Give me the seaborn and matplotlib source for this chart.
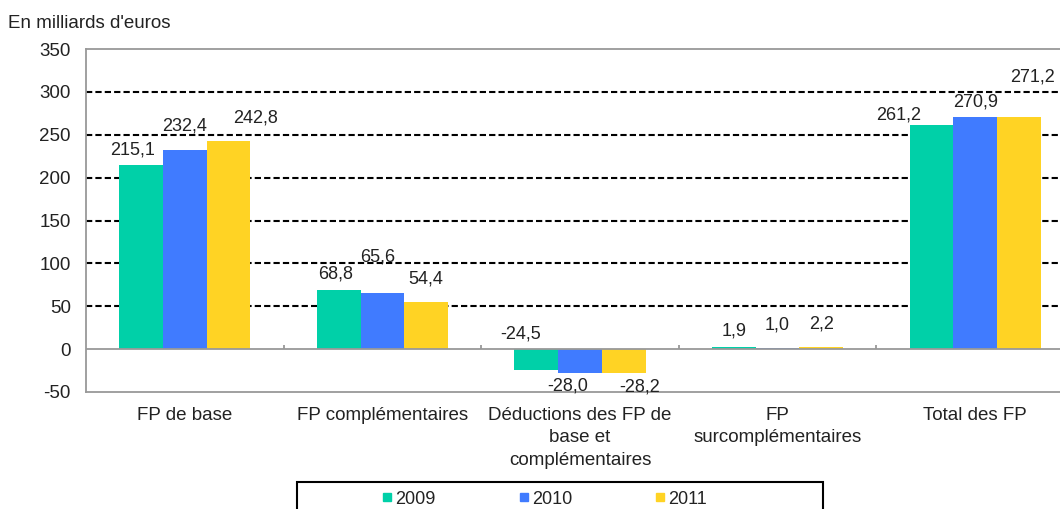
import pandas as pd
import matplotlib.pyplot as plt
import seaborn as sns
from matplotlib.lines import Line2D
from matplotlib.patches import Rectangle

# données (en milliards d'euros)
categories = ["FP de base", "FP complémentaires",
              "Déductions des FP de\nbase et\ncomplémentaires",
              "FP\nsurcomplémentaires", "Total des FP"]
years = ["2009", "2010", "2011"]
values_2009 = [215.1, 68.8, -24.5, 1.9, 261.2]
values_2010 = [232.4, 65.6, -28.0, 1.0, 270.9]
values_2011 = [242.8, 54.4, -28.2, 2.2, 271.2]
colors = ["#00D0A8", "#407BFF", "#FFD324"]

# décalage des étiquettes (points) par année puis catégorie
label_dx = [[-6, -2, -11.5, 0, -24], [0, -3.5, -9, 0, 0], [19.5, 0, 11.5, 0.5, 10]]
label_dy = [[10.5, 11.5, 26, 12, 7], [17, 25.5, -9.5, 17, 10.5], [16.5, 17, -9.5, 16.5, 28.5]]

df = pd.DataFrame({
    "cat": categories * 3,
    "year": [y for y in years for _ in categories],
    "val": values_2009 + values_2010 + values_2011,
})

sns.set_style("white")
plt.rcParams['font.family'] = ['Liberation Sans', 'DejaVu Sans']
plt.rcParams['axes.unicode_minus'] = False
text_color = "#222222"

fig = plt.figure(figsize=(10.6, 5.09), dpi=100)
ax = fig.add_axes([86 / 1060, 117 / 509, 988 / 1060, 343 / 509])

sns.barplot(data=df, x="cat", y="val", hue="year", palette=colors,
            width=0.664, saturation=1, gap=0, ax=ax, legend=False,
            edgecolor="none", linewidth=0)

ax.set_xlim(-0.5, 4.5)
ax.set_ylim(-50, 350)
ax.set_yticks(range(-50, 351, 50))
ax.set_xlabel("")
ax.set_ylabel("")

# grille pointillée
for y in range(50, 301, 50):
    ax.axhline(y, color="black", lw=1.5, ls=(0, (3, 1.5)), zorder=0)
ax.axhline(0, color="#999999", lw=1.3, zorder=3)
ax.vlines([0.5, 1.5, 2.5, 3.5], 0, 5, color="#999999", lw=1.3, zorder=3)

for side in ["left", "bottom", "top", "right"]:
    ax.spines[side].set_color("#999999")
    ax.spines[side].set_linewidth(1.3)

ax.tick_params(axis="both", length=0, labelsize=13.5, colors=text_color)
ax.tick_params(axis="y", pad=11)
ax.tick_params(axis="x", pad=11)
for lbl in ax.get_xticklabels():
    lbl.set_linespacing(1.4)

# étiquettes de valeurs
for i, cont in enumerate(ax.containers):
    for j, bar in enumerate(cont):
        v = bar.get_height() if bar.get_y() >= 0 else bar.get_y()
        xc = bar.get_x() + bar.get_width() / 2
        ax.annotate(f"{v:.1f}".replace(".", ","), (xc, v),
                    xytext=(label_dx[i][j], label_dy[i][j]),
                    textcoords="offset points", ha="center", va="center",
                    fontsize=13, color=text_color)

fig.text(8 / 1060, 1 - 23 / 509, "En milliards d'euros", fontsize=13.5,
         color=text_color, va="center", ha="left")

# légende
handles = [Line2D([], [], marker="s", ls="none", color=c, markersize=6) for c in colors]
fig.legend(handles, years, loc="center left", ncol=3, frameon=False,
           bbox_to_anchor=(365 / 1060, 1 - 499 / 509), fontsize=13,
           handlelength=0.6, handletextpad=0.15, columnspacing=4.6,
           labelcolor=text_color)
fig.patches.append(Rectangle((297 / 1060, -0.05), 526 / 1060, 0.05 + 1 - 482 / 509,
                             transform=fig.transFigure, fill=False,
                             edgecolor="black", lw=1.5))

fig.savefig("out.png", dpi=100)
